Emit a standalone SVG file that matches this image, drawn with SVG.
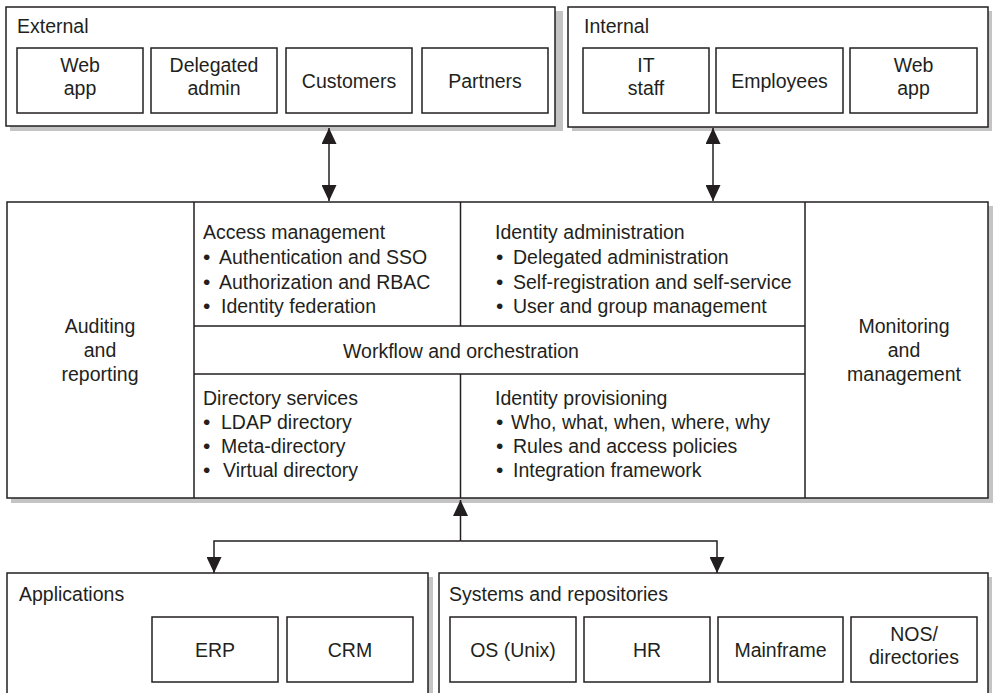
<svg xmlns="http://www.w3.org/2000/svg" width="995" height="693" viewBox="0 0 995 693">
<defs>
<style>
.box{fill:#fff;stroke:#231f20;stroke-width:1.5}
.shadow{fill:#c4c4c4;stroke:none}
.ln{fill:none;stroke:#231f20;stroke-width:1.5}
text{font-family:"Liberation Sans",Arial,sans-serif;font-size:19.5px;fill:#231f20}
.c{text-anchor:middle}
.b{font-size:21px}
</style>
<marker id="ah" viewBox="0 0 16 15" refX="16" refY="7.5" markerWidth="16" markerHeight="15" markerUnits="userSpaceOnUse" orient="auto">
<path d="M0,0 L16,7.5 L0,15 Z" fill="#231f20"/>
</marker>
</defs>
<rect width="995" height="693" fill="#fff"/>

<g id="external">
<rect class="shadow" x="10" y="11" width="553" height="120"/>
<rect class="box" x="6" y="7" width="549" height="119"/>
<text x="17" y="33">External</text>
<g id="ext-webapp"><rect class="box" x="17" y="48" width="126" height="65"/><text class="c" x="80" y="72">Web</text><text class="c" x="80" y="95">app</text></g>
<g id="ext-delegated"><rect class="box" x="151" y="48" width="126" height="65"/><text class="c" x="214" y="72">Delegated</text><text class="c" x="214" y="95">admin</text></g>
<g id="ext-customers"><rect class="box" x="286" y="48" width="126" height="65"/><text class="c" x="349" y="87.5">Customers</text></g>
<g id="ext-partners"><rect class="box" x="422" y="48" width="126" height="65"/><text class="c" x="485" y="87.5">Partners</text></g>
</g>

<g id="internal">
<rect class="shadow" x="572" y="11" width="420" height="120"/>
<rect class="box" x="568" y="7" width="420" height="120"/>
<text x="584" y="33">Internal</text>
<g id="int-itstaff"><rect class="box" x="583" y="48" width="126" height="65"/><text class="c" x="646" y="72">IT</text><text class="c" x="646" y="95">staff</text></g>
<g id="int-employees"><rect class="box" x="716" y="48" width="127" height="65"/><text class="c" x="779.5" y="87.5">Employees</text></g>
<g id="int-webapp"><rect class="box" x="850" y="48" width="127" height="65"/><text class="c" x="913.5" y="72">Web</text><text class="c" x="913.5" y="95">app</text></g>
</g>

<g id="main">
<rect class="shadow" x="11" y="206" width="982" height="297"/>
<rect class="box" x="7" y="202" width="981" height="296"/>
<path class="ln" d="M194,202 V498 M805,202 V498 M460.5,202 V326 M460.5,374 V498 M194,326 H805 M194,374 H805"/>
<g id="auditing"><text class="c" x="100" y="333">Auditing</text><text class="c" x="100" y="357">and</text><text class="c" x="100" y="381">reporting</text></g>
<g id="monitoring"><text class="c" x="904" y="333">Monitoring</text><text class="c" x="904" y="357">and</text><text class="c" x="904" y="381">management</text></g>
<g id="access">
<text x="203" y="239">Access management</text>
<text x="203" y="264"><tspan class="b">•</tspan><tspan x="219">Authentication and SSO</tspan></text>
<text x="203" y="289"><tspan class="b">•</tspan><tspan x="219">Authorization and RBAC</tspan></text>
<text x="203" y="313"><tspan class="b">•</tspan><tspan x="221">Identity federation</tspan></text>
</g>
<g id="idadmin">
<text x="495" y="239">Identity administration</text>
<text x="496" y="264"><tspan class="b">•</tspan><tspan x="513">Delegated administration</tspan></text>
<text x="496" y="289"><tspan class="b">•</tspan><tspan x="513">Self-registration and self-service</tspan></text>
<text x="496" y="313"><tspan class="b">•</tspan><tspan x="513">User and group management</tspan></text>
</g>
<g id="workflow"><text class="c" x="461" y="358">Workflow and orchestration</text></g>
<g id="directory">
<text x="203" y="405">Directory services</text>
<text x="203" y="429"><tspan class="b">•</tspan><tspan x="221">LDAP directory</tspan></text>
<text x="203" y="453"><tspan class="b">•</tspan><tspan x="221">Meta-directory</tspan></text>
<text x="203" y="477"><tspan class="b">•</tspan><tspan x="223">Virtual directory</tspan></text>
</g>
<g id="provisioning">
<text x="495" y="405">Identity provisioning</text>
<text x="496" y="429"><tspan class="b">•</tspan><tspan x="511">Who, what, when, where, why</tspan></text>
<text x="496" y="453"><tspan class="b">•</tspan><tspan x="513">Rules and access policies</tspan></text>
<text x="496" y="477"><tspan class="b">•</tspan><tspan x="513">Integration framework</tspan></text>
</g>
</g>

<g id="applications">
<rect class="shadow" x="11" y="577" width="422" height="130"/>
<rect class="box" x="7" y="573" width="421" height="130"/>
<text x="19" y="601">Applications</text>
<g id="app-erp"><rect class="box" x="152" y="617" width="126" height="65"/><text class="c" x="215" y="656.5">ERP</text></g>
<g id="app-crm"><rect class="box" x="287" y="617" width="126" height="65"/><text class="c" x="350" y="656.5">CRM</text></g>
</g>

<g id="systems">
<rect class="shadow" x="443" y="577" width="549" height="130"/>
<rect class="box" x="439" y="573" width="549" height="130"/>
<text x="449" y="601">Systems and repositories</text>
<g id="sys-os"><rect class="box" x="450" y="617" width="126" height="65"/><text class="c" x="513" y="656.5">OS (Unix)</text></g>
<g id="sys-hr"><rect class="box" x="584" y="617" width="126" height="65"/><text class="c" x="647" y="656.5">HR</text></g>
<g id="sys-mainframe"><rect class="box" x="718" y="617" width="125" height="65"/><text class="c" x="780.5" y="656.5">Mainframe</text></g>
<g id="sys-nos"><rect class="box" x="851" y="617" width="126" height="65"/><text class="c" x="914" y="641">NOS/</text><text class="c" x="914" y="664">directories</text></g>
</g>

<g id="connectors">
<path class="ln" d="M329,164 V128" marker-end="url(#ah)"/>
<path class="ln" d="M329,164 V201" marker-end="url(#ah)"/>
<path class="ln" d="M713,164 V128" marker-end="url(#ah)"/>
<path class="ln" d="M713,164 V201" marker-end="url(#ah)"/>
<path class="ln" d="M460.5,541 V500" marker-end="url(#ah)"/>
<path class="ln" d="M460.5,541 H214 V573" marker-end="url(#ah)"/>
<path class="ln" d="M460.5,541 H717 V573" marker-end="url(#ah)"/>
</g>
</svg>
